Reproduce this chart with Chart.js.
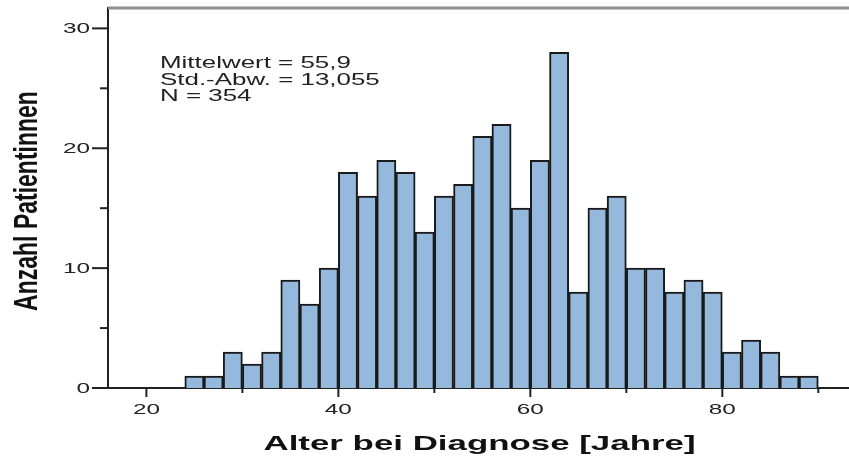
<!DOCTYPE html>
<html>
<head>
<meta charset="utf-8">
<script src="https://cdn.jsdelivr.net/npm/chart.js@4.4.1/dist/chart.umd.min.js"></script>
<style>
  html, body { margin: 0; padding: 0; background: #fff; }
  #wrap { width: 849px; height: 456px; }
</style>
</head>
<body>
<div id="wrap"><canvas id="hist-Chart"></canvas></div>
<script>
// bin centres (2-year bins, 24..90) and patient counts
const binCenters = [25, 27, 29, 31, 33, 35, 37, 39, 41, 43, 45, 47, 49, 51, 53, 55, 57,
  59, 61, 63, 65, 67, 69, 71, 73, 75, 77, 79, 81, 83, 85, 87, 89];
const counts = [1, 1, 3, 2, 3, 9, 7, 10, 18, 16, 19, 18, 13, 16, 17, 21, 22,
  15, 19, 28, 8, 15, 16, 10, 10, 8, 9, 8, 3, 4, 3, 1, 1];
const xTickLabels = [20, 40, 60, 80];
const yTickLabels = [0, 10, 20, 30];
const statsLines = ["Mittelwert = 55,9", "Std.-Abw. = 13,055", "N = 354"];
const xTitle = "Alter bei Diagnose [Jahre]";
const yTitle = "Anzahl Patientinnen";

const STRETCH = 1.62; // the original is stretched sideways
const INK = "#222";

function wideText(c, text, x, y, align, sx) {
  c.save();
  c.translate(x, y);
  c.scale(sx || STRETCH, 1);
  c.textAlign = align;
  c.textBaseline = "alphabetic";
  c.fillText(text, 0, 0);
  c.restore();
}

const decorations = {
  id: "decorations",
  afterDraw(chart) {
    const c = chart.ctx;
    const area = chart.chartArea;
    const xs = chart.scales.x;
    const ys = chart.scales.y;
    c.save();

    // grey frame line on top
    c.strokeStyle = "#8f8f8f";
    c.lineWidth = 3;
    c.beginPath();
    c.moveTo(area.left, area.top);
    c.lineTo(area.right, area.top);
    c.stroke();

    // tick marks
    c.strokeStyle = INK;
    c.lineWidth = 2;
    ys.ticks.forEach((t) => {
      const py = ys.getPixelForValue(t.value);
      const len = yTickLabels.includes(t.value) ? 16 : 8;
      c.beginPath();
      c.moveTo(area.left - len, py);
      c.lineTo(area.left, py);
      c.stroke();
    });
    xs.ticks.forEach((t) => {
      const px = xs.getPixelForValue(t.value);
      const len = xTickLabels.includes(t.value) ? 9 : 5;
      c.beginPath();
      c.moveTo(px, area.bottom);
      c.lineTo(px, area.bottom + len);
      c.stroke();
    });

    // tick labels
    c.fillStyle = INK;
    c.font = "15px 'Liberation Sans', Arial, sans-serif";
    yTickLabels.forEach((v) => {
      wideText(c, String(v), area.left - 18, ys.getPixelForValue(v) + 5, "right");
    });
    xTickLabels.forEach((v) => {
      wideText(c, String(v), xs.getPixelForValue(v), area.bottom + 26, "center");
    });

    // statistics box
    c.font = "16px 'Liberation Sans', Arial, sans-serif";
    statsLines.forEach((line, i) => {
      wideText(c, line, 160, 68 + i * 16.5, "left");
    });

    // axis titles
    c.fillStyle = "#111";
    c.font = "bold 21px 'Liberation Sans', Arial, sans-serif";
    wideText(c, xTitle, (area.left + area.right) / 2 + 1, 450, "center", 1.66);

    c.save();
    c.translate(37, 201);
    c.rotate(-Math.PI / 2);
    c.scale(1, 1.45);
    c.font = "bold 23px 'Liberation Sans', Arial, sans-serif";
    c.textAlign = "center";
    c.textBaseline = "alphabetic";
    c.fillText(yTitle, 0, 0);
    c.restore();

    c.restore();
  },
};

const ctx = document.getElementById("hist-Chart");
const histChart = new Chart(ctx, {
  type: "bar",
  data: {
    datasets: [
      {
        label: yTitle,
        data: binCenters.map((x, i) => ({ x: x, y: counts[i] })),
        backgroundColor: "#95b9dd",
        borderColor: "#1a1a1a",
        borderWidth: 2,
        borderSkipped: "bottom",
        barPercentage: 1,
        categoryPercentage: 1,
      },
    ],
  },
  options: {
    responsive: true,
    maintainAspectRatio: false,
    animation: false,
    layout: { padding: { top: 8, left: 0, right: 0, bottom: 0 } },
    plugins: {
      legend: { display: false },
      tooltip: { enabled: false },
    },
    scales: {
      x: {
        type: "linear",
        min: 16,
        max: 93.2,
        offset: false,
        ticks: { display: false, stepSize: 10, includeBounds: false },
        grid: { display: false },
        border: { display: true, color: INK, width: 2 },
        afterFit(scale) { scale.height = 68; },
      },
      y: {
        min: 0,
        max: 31.7,
        ticks: { display: false, stepSize: 5, includeBounds: false },
        grid: { display: false },
        border: { display: true, color: INK, width: 2 },
        afterFit(scale) { scale.width = 108; },
      },
    },
  },
  plugins: [decorations],
});
</script>
</body>
</html>
